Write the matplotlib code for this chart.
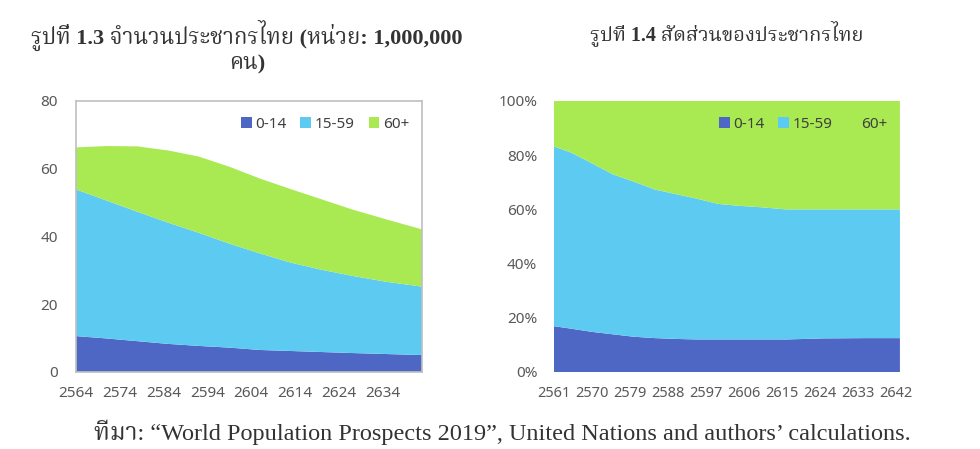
import matplotlib
matplotlib.use("Agg")
import matplotlib.pyplot as plt
from matplotlib import font_manager as fm
from matplotlib.patches import Patch
from matplotlib.ticker import FuncFormatter
from fontTools.ttLib import TTFont

# รูปที่ 1.3: จำนวนประชากร (ล้านคน)
years_num = [2564, 2571, 2578, 2585, 2592, 2599, 2606, 2613, 2620, 2627, 2635, 2643]
age_0_14 = [10.6, 9.9, 9.1, 8.3, 7.7, 7.2, 6.5, 6.2, 5.9, 5.6, 5.3, 5.0]
age_15_59 = [43.3, 40.7, 38.2, 35.8, 33.4, 30.7, 28.5, 26.1, 24.3, 22.8, 21.3, 20.2]
age_60p = [12.4, 16.1, 19.3, 21.3, 22.5, 22.7, 22.1, 21.7, 20.8, 19.6, 18.4, 16.9]
ticks_num = [2564, 2574, 2584, 2594, 2604, 2614, 2624, 2634]

# รูปที่ 1.4: สัดส่วน (%)
years_pct = [2561, 2565, 2570, 2575, 2580, 2585, 2590, 2595, 2600, 2605, 2610, 2616, 2625, 2635, 2643]
pct_0_14 = [16.9, 16.0, 14.8, 13.9, 13.0, 12.5, 12.2, 12.0, 12.0, 12.0, 12.0, 12.0, 12.4, 12.5, 12.5]
pct_15_59 = [66.3, 65.0, 62.2, 59.0, 57.2, 54.8, 53.4, 51.9, 50.0, 49.3, 48.8, 48.0, 47.6, 47.5, 47.5]
pct_60p = [16.8, 19.0, 23.0, 27.1, 29.8, 32.7, 34.4, 36.1, 38.0, 38.7, 39.2, 40.0, 40.0, 40.0, 40.0]
ticks_pct = [2561, 2570, 2579, 2588, 2597, 2606, 2615, 2624, 2633, 2642]

labels = ['0-14', '15-59', '60+']
colors = ['#4F67C4', '#5DCBF1', '#A9EA53']


def find_thai_font():
    """หาฟอนต์ที่มีตัวอักษรไทย (ชอบ serif มากกว่า)"""
    best, best_score = None, -1
    seen = set()
    for f in fm.fontManager.ttflist:
        if f.fname in seen:
            continue
        seen.add(f.fname)
        try:
            cmap = TTFont(f.fname, fontNumber=0, lazy=True).getBestCmap()
        except Exception:
            continue
        if not cmap or 0x0E01 not in cmap:
            continue
        score = 1 + 2 * ('Serif' in f.name) + ('Thai' in f.name)
        if score > best_score:
            best, best_score = f.name, score
    return best or 'DejaVu Sans'


thai = find_thai_font()
plt.rcParams['font.family'] = ['Noto Sans', thai, 'DejaVu Sans']
serif = ['Liberation Serif', thai, 'DejaVu Serif']
grey = '#595959'

fig = plt.figure(figsize=(9.8, 4.49), dpi=100)
ax1 = fig.add_axes([0.0776, 0.1715, 0.353, 0.6036])
ax2 = fig.add_axes([0.5653, 0.1715, 0.353, 0.6036])

# กราฟซ้าย
ax1.stackplot(years_num, age_0_14, age_15_59, age_60p, colors=colors, linewidth=0)
ax1.set_xlim(2564, 2643)
ax1.set_ylim(0, 80)
ax1.set_yticks([0, 20, 40, 60, 80])
ax1.set_xticks(ticks_num)
for s in ax1.spines.values():
    s.set_color('#BFBFBF')
    s.set_linewidth(1.2)
ax1.tick_params(length=0, colors=grey, labelsize=11, pad=10)
ax1.tick_params(axis='y', pad=13)

# กราฟขวา
ax2.stackplot(years_pct, pct_0_14, pct_15_59, pct_60p, colors=colors, linewidth=0)
ax2.set_xlim(2561, 2643)
ax2.set_ylim(0, 100)
ax2.set_yticks([0, 20, 40, 60, 80, 100])
ax2.yaxis.set_major_formatter(FuncFormatter(lambda v, p: f'{v:.0f}%'))
ax2.set_xticks(ticks_pct)
for s in ax2.spines.values():
    s.set_visible(False)
ax2.tick_params(length=0, colors=grey, labelsize=11, pad=10)
ax2.tick_params(axis='x', labelsize=10.5)
ax2.tick_params(axis='y', pad=12)

handles = [Patch(facecolor=c, edgecolor='none') for c in colors]
for ax in (ax1, ax2):
    leg = ax.legend(handles, labels, ncol=3, loc='upper right', bbox_to_anchor=(0.99, 0.975),
                    frameon=False, fontsize=11, handlelength=0.7, handleheight=0.7,
                    handletextpad=0.25, columnspacing=0.9, borderaxespad=0.2)
    for t in leg.get_texts():
        t.set_color('#404040')

# ชื่อกราฟ
fig.text(0.252, 0.955, 'รูปที่ 1.3 จำนวนประชากรไทย (หน่วย: 1,000,000\nคน)',
         ha='center', va='top', fontsize=16, fontweight='bold', family=serif,
         color='#333333', linespacing=1.2)
fig.text(0.742, 0.955, 'รูปที่ 1.4 สัดส่วนของประชากรไทย',
         ha='center', va='top', fontsize=14.5, fontweight='bold', family=serif, color='#333333')

fig.text(0.513, 0.038, 'ทีมา: “World Population Prospects 2019”, United Nations and authors’ calculations.',
         ha='center', va='center', fontsize=17.5, family=serif, color='#333333')

fig.savefig('out.png', dpi=100, facecolor='white')
